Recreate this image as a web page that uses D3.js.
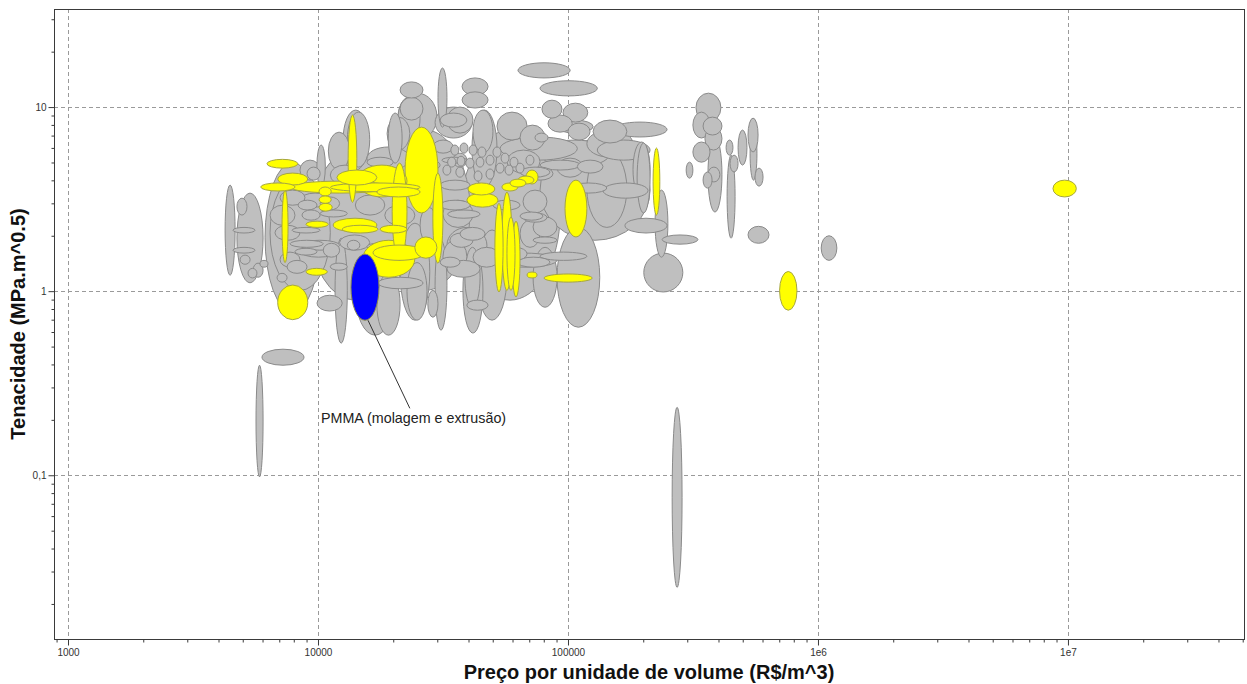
<!DOCTYPE html>
<html>
<head>
<meta charset="utf-8">
<script src="https://cdn.jsdelivr.net/npm/d3@7"></script>
<style>
  body { margin: 0; background: #fff; }
  svg { display: block; }
  text { font-family: "Liberation Sans", Arial, sans-serif; }
</style>
</head>
<body>
<svg id="chart" width="1247" height="684"></svg>
<script>
// Axis ticks
const xTickValues = [1000, 10000, 100000, 1e6, 1e7];
const xTickLabels = ["1000", "10000", "100000", "1e6", "1e7"];
const yTickValues = [0.1, 1, 10];
const yTickLabels = ["0,1", "1", "10"];

const xTitle = "Preço por unidade de volume (R$/m^3)";
const yTitle = "Tenacidade (MPa.m^0.5)";

// Each row: [price min, price max, toughness min, toughness max]
const otherMaterials = [
  [5650, 6030, 0.098, 0.396], [5970, 8790, 0.396, 0.484],
  [261000, 286000, 0.0246, 0.234], [1.03e6, 1.19e6, 1.47, 2.0],
  [525000, 637000, 1.82, 2.25], [238000, 331000, 1.80, 2.02],
  [201000, 288000, 0.99, 1.61], [169000, 249000, 2.07, 2.49],
  [223000, 251000, 1.53, 3.54], [189000, 213000, 2.66, 6.38],
  [151000, 249000, 6.88, 8.29], [119000, 172000, 2.22, 5.84],
  [138000, 209000, 3.20, 3.87], [90400, 134000, 0.637, 2.22],
  [72500, 90400, 0.818, 1.73], [43300, 57000, 0.696, 2.15],
  [38700, 44500, 0.818, 1.73], [39400, 47900, 0.788, 0.894],
  [38000, 45700, 0.592, 1.73], [77300, 119000, 1.47, 1.63],
  [50100, 90400, 1.35, 1.61], [64300, 77300, 1.73, 2.43],
  [66100, 82400, 2.66, 3.54], [77300, 147000, 4.72, 6.62],
  [131000, 213000, 5.15, 6.62], [119000, 182000, 5.34, 7.50],
  [53500, 109000, 5.15, 6.88], [57000, 77300, 4.38, 5.84],
  [90400, 115000, 4.16, 5.28], [68600, 87100, 4.01, 4.72],
  [102000, 143000, 3.41, 3.87], [182000, 213000, 3.25, 6.46],
  [63100, 102000, 14.4, 17.4], [77300, 131000, 11.5, 13.9],
  [78700, 94600, 8.71, 10.9], [95500, 120000, 8.29, 10.5],
  [100000, 122500, 6.62, 8.18], [83200, 104000, 7.31, 9.05],
  [90400, 126000, 7.22, 8.50], [73800, 83200, 6.46, 7.22],
  [21300, 26300, 11.2, 13.7], [21300, 26300, 8.5, 11.3],
  [30200, 32800, 7.78, 16.3], [37700, 47900, 11.6, 14.4],
  [37700, 47900, 9.88, 12.1], [32800, 41700, 7.22, 10],
  [41300, 52000, 3.68, 9.63], [29400, 41300, 6.79, 10],
  [11000, 13400, 4.55, 7.31], [12600, 15900, 4.55, 9.63],
  [19100, 21700, 4.96, 9.28], [20900, 29900, 6.62, 11.9],
  [9900, 10700, 3.68, 6.22], [41700, 50100, 5.62, 9.63],
  [8470, 10200, 4.01, 5.15], [15700, 23300, 4.55, 6.07],
  [325000, 409000, 8.29, 11.9], [316000, 370000, 6.79, 9.39],
  [347000, 413000, 7.05, 8.82], [316000, 370000, 5.02, 6.46],
  [353000, 413000, 5.84, 7.78], [363000, 413000, 2.69, 6.88],
  [363000, 405000, 3.92, 4.72], [347000, 377000, 3.63, 4.44],
  [297000, 316000, 4.11, 5.02], [429000, 457000, 5.48, 6.62],
  [433000, 466000, 1.94, 5.48], [445000, 479000, 4.44, 5.48],
  [479000, 520000, 4.84, 7.50], [525000, 576000, 5.70, 8.71],
  [535000, 570000, 4.01, 7.78], [560000, 603000, 3.72, 4.66],
  [4250, 4660, 1.22, 3.77], [4740, 6030, 1.11, 3.41],
  [4740, 5200, 2.59, 3.20], [4570, 5600, 2.07, 2.22],
  [4570, 5600, 1.61, 1.73], [4880, 5350, 1.40, 1.57],
  [5250, 5700, 1.18, 1.33], [5860, 6310, 1.35, 1.47],
  [6140, 10200, 0.77, 5.0], [9910, 12500, 0.78, 0.95],
  [11700, 13100, 0.522, 1.94], [17200, 21300, 0.577, 1.25],
  [17400, 26300, 1.03, 1.19], [22700, 27300, 0.696, 1.43],
  [27500, 30200, 0.722, 1.01], [29400, 32800, 0.614, 1.89],
  [21300, 28000, 0.696, 2.34], [31600, 39400, 1.25, 1.89],
  [32800, 44500, 1.19, 1.47], [31600, 41700, 2.22, 3.12],
  [32800, 47400, 1.42, 2.22], [41700, 53500, 1.35, 1.73],
  [25600, 29900, 1.82, 2.86], [8470, 11200, 2.86, 3.41],
  [8470, 12200, 1.67, 1.89], [8470, 11900, 1.53, 1.78],
  [13100, 16100, 4.72, 9.39], [18900, 23300, 5.84, 8.82],
  [20900, 25600, 6.62, 11.3], [14100, 20300, 0.577, 1.67],
  [9290, 21300, 0.894, 5.84], [17700, 40600, 1.01, 7.50],
  [37000, 92900, 0.894, 7.50], [77300, 213000, 1.89, 6.62],
  [6430, 11200, 1.01, 4.27],
  [8320, 9910, 2.76, 3.12], [7870, 10200, 2.07, 2.22],
  [7730, 10500, 1.73, 1.89], [8090, 9910, 1.57, 1.71],
  [7050, 8470, 1.35, 1.63], [8630, 10200, 2.43, 2.76],
  [10200, 12200, 2.76, 3.25], [10200, 13100, 2.53, 2.76],
  [9040, 10200, 4.01, 4.72], [15700, 20000, 4.72, 5.34],
  [25600, 30800, 4.55, 5.15], [28900, 34700, 5.62, 6.62],
  [30800, 39400, 7.78, 9.28], [34700, 39400, 4.72, 5.62],
  [30800, 40600, 2.76, 3.12], [30800, 40600, 3.54, 4.01],
  [13100, 14700, 1.67, 1.89], [15700, 18900, 1.67, 1.82],
  [10500, 12200, 1.53, 1.82], [11200, 13100, 1.30, 1.42],
  [7520, 9040, 1.25, 1.47], [6860, 7520, 1.12, 1.25],
  [5500, 6030, 1.19, 1.42],
  [34000, 36600, 5.48, 6.22], [37000, 39800, 5.62, 6.38],
  [40200, 43300, 5.48, 6.22], [43600, 47000, 5.34, 6.07],
  [33000, 35600, 4.72, 5.34], [36000, 38700, 4.78, 5.41],
  [39000, 42100, 4.66, 5.28], [42900, 46100, 4.72, 5.34],
  [47000, 50600, 4.84, 5.48], [50100, 54000, 5.34, 6.07],
  [54000, 58100, 4.96, 5.62], [58600, 63100, 4.72, 5.34],
  [51500, 55500, 4.38, 4.96], [56000, 60300, 4.27, 4.84],
  [61900, 66700, 4.38, 4.96], [47000, 50600, 4.06, 4.61],
  [35600, 38400, 4.16, 4.72], [31600, 34000, 4.27, 4.84],
  [42100, 45300, 3.96, 4.50], [67900, 73100, 4.84, 5.48],
  [31300, 39400, 4.96, 5.34], [33000, 44500, 2.49, 2.76],
  [33700, 41700, 1.73, 2.07], [30800, 37000, 1.35, 1.53],
  [64300, 84700, 4.16, 4.72], [64300, 79400, 2.43, 2.69],
  [72500, 90400, 1.97, 2.53], [72500, 90400, 1.82, 1.97],
  [62500, 84700, 1.35, 1.53], [55000, 68600, 1.47, 1.73],
  [77300, 112000, 4.55, 5.15], [109000, 138000, 4.38, 5.15],
  [126000, 172000, 6.38, 8.50], [37000, 46600, 1.89, 2.22],
  [50100, 64300, 2.76, 3.12], [66100, 82400, 2.37, 2.66],
  [52000, 68600, 6.62, 9.39], [64300, 80900, 5.84, 7.98],
  [11200, 14700, 3.77, 4.84], [7050, 8870, 2.93, 3.54],
  [6430, 8090, 2.28, 2.93], [6730, 8470, 1.89, 2.28],
  [14100, 18500, 2.59, 3.33], [12200, 16100, 1.67, 2.02],
  [18500, 24400, 2.28, 2.93]
];

const thermoplastics = [
  [6900, 9100, 0.70, 1.08], [6250, 8300, 4.66, 5.2],
  [6900, 9100, 3.77, 4.38], [5900, 8100, 3.50, 3.87],
  [7700, 19400, 3.41, 3.96], [11200, 25600, 3.47, 3.87],
  [7180, 7590, 1.43, 3.54], [8950, 11000, 2.22, 2.40],
  [8950, 10900, 1.22, 1.33], [10100, 11300, 3.29, 3.68],
  [10100, 11300, 3.00, 3.29], [10100, 11400, 2.72, 3.0],
  [13200, 14300, 3.04, 9.05], [11900, 17200, 3.77, 4.55],
  [11500, 17200, 2.10, 2.49], [12500, 17400, 2.07, 2.28],
  [14300, 22700, 3.25, 4.84], [17200, 25600, 3.25, 3.68],
  [17700, 22700, 2.07, 2.28], [19800, 22700, 1.47, 4.96],
  [15100, 24400, 1.19, 1.89], [16600, 26800, 1.47, 1.78],
  [24400, 29900, 1.51, 1.97], [22300, 30200, 2.66, 7.78],
  [28800, 31600, 1.42, 4.38], [39800, 51000, 3.33, 3.87],
  [39400, 52500, 2.86, 3.41], [54400, 63100, 3.50, 3.87],
  [58600, 67900, 3.68, 4.06], [63100, 73100, 3.82, 4.22],
  [67900, 75900, 3.82, 4.55], [51000, 55000, 0.99, 3.0],
  [54400, 59700, 1.01, 3.45], [57000, 61400, 1.01, 2.53],
  [59700, 64300, 0.93, 2.40], [97300, 119000, 1.97, 4.01],
  [68600, 75200, 1.18, 1.27], [80200, 125000, 1.12, 1.24],
  [219000, 233000, 2.59, 5.99], [702000, 824000, 0.788, 1.28],
  [8.71e6, 1.08e7, 3.25, 4.01]
];

const pmma = [[13550, 17540, 0.695, 1.59]];
const pmmaLabel = "PMMA (molagem e extrusão)";
const pmmaLabelAt = [10280, 0.192];   // text anchor (price, toughness)
const pmmaLeaderEnd = [23300, 0.231];

const plot = { left: 54, right: 1244, top: 9, bottom: 639 };

const svg = d3.select("#chart");

const x = d3.scaleLog().domain([879, 5.06e7]).range([plot.left, plot.right]);
const y = d3.scaleLog().domain([0.0129, 34.1]).range([plot.bottom, plot.top]);

// Grid
const grid = svg.append("g").attr("stroke", "#9a9a9a").attr("stroke-dasharray", "4,3").attr("stroke-width", 1);
grid.selectAll(".gx").data(xTickValues).join("line")
  .attr("x1", d => Math.round(x(d)) + 0.5).attr("x2", d => Math.round(x(d)) + 0.5)
  .attr("y1", plot.top).attr("y2", plot.bottom);
grid.selectAll(".gy").data(yTickValues).join("line")
  .attr("y1", d => Math.round(y(d)) + 0.5).attr("y2", d => Math.round(y(d)) + 0.5)
  .attr("x1", plot.left).attr("x2", plot.right);

// Bubbles: an ellipse spans each property range on the log axes
function toEllipse(r) {
  const x0 = x(r[0]), x1 = x(r[1]), y0 = y(r[2]), y1 = y(r[3]);
  return { cx: (x0 + x1) / 2, cy: (y0 + y1) / 2, rx: Math.abs(x1 - x0) / 2, ry: Math.abs(y0 - y1) / 2 };
}
function drawSet(rows, fill, stroke) {
  const els = rows.map(toEllipse).sort((a, b) => b.rx * b.ry - a.rx * a.ry);
  svg.append("g").selectAll("ellipse").data(els).join("ellipse")
    .attr("cx", d => d.cx).attr("cy", d => d.cy)
    .attr("rx", d => d.rx).attr("ry", d => d.ry)
    .attr("fill", fill).attr("stroke", stroke).attr("stroke-width", 1);
}
drawSet(otherMaterials, "#bfbfbf", "#8a8a8a");
drawSet(thermoplastics, "#ffff00", "#a6a640");
drawSet(pmma, "#0000ff", "#8c8c50");

// Label with leader line
const pm = toEllipse(pmma[0]);
svg.append("line")
  .attr("x1", pm.cx + 3).attr("y1", pm.cy + pm.ry)
  .attr("x2", x(pmmaLeaderEnd[0])).attr("y2", y(pmmaLeaderEnd[1]))
  .attr("stroke", "#333").attr("stroke-width", 1);
svg.append("text")
  .attr("x", x(pmmaLabelAt[0])).attr("y", y(pmmaLabelAt[1]))
  .attr("font-size", 14.3).attr("fill", "#222")
  .text(pmmaLabel);

// Frame
svg.append("rect")
  .attr("x", plot.left + 0.5).attr("y", plot.top + 0.5)
  .attr("width", plot.right - plot.left).attr("height", plot.bottom - plot.top)
  .attr("fill", "none").attr("stroke", "#3a3a3a").attr("stroke-width", 1);

// Axes: major + minor ticks
const xMinor = x.ticks().filter(v => !xTickValues.includes(v));
const yMinor = y.ticks().filter(v => !yTickValues.some(t => Math.abs(t - v) < 1e-9));

const xAxisG = svg.append("g").attr("transform", `translate(0,${plot.bottom + 0.5})`);
xAxisG.append("g").call(d3.axisBottom(x).tickValues(xMinor).tickSize(3).tickFormat(""));
xAxisG.append("g").call(d3.axisBottom(x).tickValues(xTickValues).tickSize(6)
  .tickFormat((d, i) => xTickLabels[i]).tickPadding(3));

const yAxisG = svg.append("g").attr("transform", `translate(${plot.left + 0.5},0)`);
yAxisG.append("g").call(d3.axisLeft(y).tickValues(yMinor).tickSize(3).tickFormat(""));
yAxisG.append("g").call(d3.axisLeft(y).tickValues(yTickValues).tickSize(6)
  .tickFormat((d, i) => yTickLabels[i]).tickPadding(2));

svg.selectAll(".domain").remove();
svg.selectAll(".tick line").attr("stroke", "#3a3a3a");
svg.selectAll(".tick text").attr("font-size", 10).attr("fill", "#333")
  .attr("font-family", "'Liberation Sans', Arial, sans-serif");

// Titles
svg.append("text")
  .attr("x", (plot.left + plot.right) / 2).attr("y", 679)
  .attr("text-anchor", "middle").attr("font-size", 20).attr("font-weight", "bold")
  .attr("fill", "#111").text(xTitle);
svg.append("text")
  .attr("transform", `translate(25,${(plot.top + plot.bottom) / 2}) rotate(-90)`)
  .attr("text-anchor", "middle").attr("font-size", 20).attr("font-weight", "bold")
  .attr("fill", "#111").text(yTitle);
</script>
</body>
</html>
